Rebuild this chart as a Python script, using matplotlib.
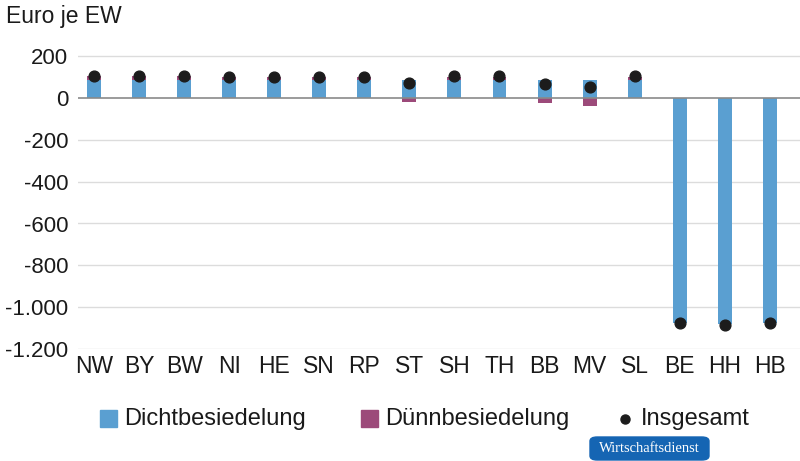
import matplotlib
matplotlib.use("Agg")
import matplotlib.pyplot as plt
from matplotlib.patches import Rectangle, FancyBboxPatch

plt.rcParams['font.family'] = ['Liberation Sans', 'DejaVu Sans']

categories = ["NW", "BY", "BW", "NI", "HE", "SN", "RP", "ST", "SH", "TH", "BB", "MV", "SL", "BE", "HH", "HB"]
dicht = [88, 88, 88, 88, 88, 88, 88, 86, 88, 88, 86, 86, 88, -1076, -1080, -1076]
duenn = [15, 15, 15, 12, 12, 12, 12, -17, 14, 14, -24, -36, 14, 0, 0, 0]
insgesamt = [106, 106, 106, 101, 101, 102, 102, 70, 103, 103, 67, 51, 103, -1076, -1086, -1076]
yticks = [200, 0, -200, -400, -600, -800, -1000, -1200]
ytick_labels = ["200", "0", "-200", "-400", "-600", "-800", "-1.000", "-1.200"]

blue = "#5a9fd1"
pink = "#9c4a7a"
dot = "#1c1c1c"
txt = "#1a1a1a"

W, H = 800, 461
fig = plt.figure(figsize=(W / 100, H / 100), dpi=100)
# axes: left 78px, right 800px, y: 0 at 98px, -1200 at 349px
top_px = 40
bot_px = 349
ax = fig.add_axes([78 / W, 1 - bot_px / H, (800 - 78) / W, (bot_px - top_px) / H])
scale = (349 - 98) / 1200.0
ymax = (98 - top_px) / scale
ax.set_ylim(-1200, ymax)
ax.set_xlim(-0.355, 15.67)

x = list(range(len(categories)))
bw = 0.31
ax.bar(x, dicht, width=bw, color=blue, zorder=2)
bottoms = [d if (d > 0 and u > 0) else 0 for d, u in zip(dicht, duenn)]
ax.bar(x, duenn, width=bw, bottom=bottoms, color=pink, zorder=2)
ax.scatter(x, insgesamt, s=60, color=dot, zorder=4)

for t in yticks:
    if t == 0:
        ax.axhline(0, color="#8a8a8a", lw=1.2, zorder=3)
    else:
        ax.axhline(t, color="#dcdcdc", lw=1.0, zorder=1)

ax.set_yticks(yticks)
ax.set_yticklabels(ytick_labels, fontsize=16)
ax.set_xticks(x)
ax.set_xticklabels(categories, fontsize=16.5)
ax.tick_params(axis="both", length=0, colors=txt)
ax.tick_params(axis="y", pad=7)
ax.tick_params(axis="x", pad=4)
for s in ax.spines.values():
    s.set_visible(False)

fig.text(6 / W, 1 - 17 / H, "Euro je EW", fontsize=16.5, va="center", ha="left", color=txt)

# legend
ly = 1 - 419 / H
sq = 17
fs_leg = 17
fig.patches.append(Rectangle((100 / W, 1 - 427 / H), sq / W, sq / H, transform=fig.transFigure, color=blue))
fig.text(124 / W, ly, "Dichtbesiedelung", fontsize=fs_leg, va="center", ha="left", color=txt)
fig.patches.append(Rectangle((361 / W, 1 - 427 / H), sq / W, sq / H, transform=fig.transFigure, color=pink))
fig.text(385 / W, ly, "Dünnbesiedelung", fontsize=fs_leg, va="center", ha="left", color=txt)
fig.lines.append(plt.Line2D([625 / W], [ly], transform=fig.transFigure, marker="o", ms=6.5, color=dot, ls=""))
fig.text(641 / W, ly, "Insgesamt", fontsize=fs_leg, va="center", ha="left", color=txt)

# badge
fig.patches.append(FancyBboxPatch((590 / W, 1 - 460 / H), 119 / W, 23 / H,
                                  boxstyle="round,pad=0,rounding_size=0.009",
                                  transform=fig.transFigure, color="#1565b3"))
fig.text(649.5 / W, 1 - 448.5 / H, "Wirtschaftsdienst", fontsize=10.5, va="center", ha="center",
         color="white", family=["Liberation Serif", "DejaVu Serif"])

fig.savefig("out.png", dpi=100)
